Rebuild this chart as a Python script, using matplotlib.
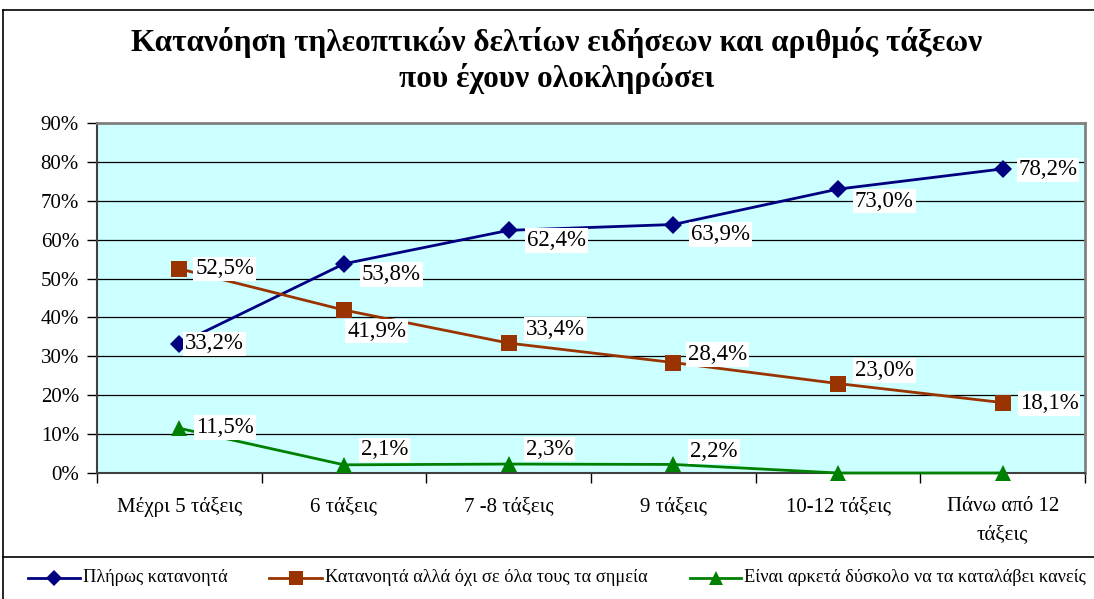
import matplotlib
matplotlib.use('Agg')
import matplotlib.pyplot as plt
from matplotlib.lines import Line2D

plt.rcParams['font.family'] = ['Liberation Serif', 'DejaVu Serif']

categories = ['Μέχρι 5 τάξεις', '6 τάξεις', '7 -8 τάξεις', '9 τάξεις',
              '10-12 τάξεις', 'Πάνω από 12\nτάξεις']
series_names = ['Πλήρως κατανοητά',
                'Κατανοητά αλλά όχι σε όλα τους τα σημεία',
                'Είναι αρκετά δύσκολο να τα καταλάβει κανείς']
full = [33.2, 53.8, 62.4, 63.9, 73.0, 78.2]
partly = [52.5, 41.9, 33.4, 28.4, 23.0, 18.1]
hard = [11.5, 2.1, 2.3, 2.2, 0.0, 0.0]

colors = ['#000080', '#993300', '#008000']
markers = ['D', 's', '^']
msizes = [9, 11, 11]

# label offsets in pixels (dx to left edge, dy of centre, down positive)
offsets = [
    [(6, 0), (18, 11), (18, 10), (18, 10), (17, 12), (16, 1)],
    [(16, 0), (3, 21), (17, -14), (15, -8), (17, -13), (17, 1)],
    [(17, -1), (17, -15), (17, -15), (17, -13), None, None],
]

fig = plt.figure(figsize=(10.94, 5.99), dpi=100)
W, H = 1094, 599
ax = fig.add_axes([97 / W, 1 - 473 / H, (1085 - 97) / W, (473 - 123) / H])
ax.set_facecolor('#CCFFFF')

x = list(range(len(categories)))
data = [full, partly, hard]
for i, vals in enumerate(data):
    ax.plot(x, vals, color=colors[i], lw=2, marker=markers[i], ms=msizes[i],
            markeredgewidth=0, clip_on=False, zorder=3 + i)

for i, vals in enumerate(data):
    for j, v in enumerate(vals):
        off = offsets[i][j]
        if off is None:
            continue
        txt = f'{v:.1f}%'.replace('.', ',')
        ax.annotate(txt, (j, v), xytext=(off[0] * 0.72, -off[1] * 0.72),
                    textcoords='offset points', ha='left', va='center',
                    fontsize=16.5,
                    bbox=dict(boxstyle='square,pad=0.08', fc='white', ec='none'),
                    zorder=10)

ax.set_xlim(-0.5, len(categories) - 0.5)
ax.set_ylim(0, 90)
ax.set_yticks(range(0, 91, 10))
ax.set_yticklabels([f'{t}%' for t in range(0, 91, 10)], fontsize=15)
ax.yaxis.grid(True, color='black', lw=0.9)
ax.set_axisbelow(True)
ax.set_xticks(x)
ax.set_xticklabels(categories, fontsize=15, linespacing=1.7)
ax.set_xticks([k + 0.5 for k in range(-1, len(categories))], minor=True)
ax.tick_params(axis='x', which='major', length=0, pad=17)
ax.tick_params(axis='x', which='minor', length=7, width=1)
ax.tick_params(axis='y', length=7, width=1, pad=6)

for s in ['top', 'right']:
    ax.spines[s].set_color('#808080')
    ax.spines[s].set_linewidth(2)
for s in ['left', 'bottom']:
    ax.spines[s].set_color('#404040')
    ax.spines[s].set_linewidth(1.5)

fig.text(557 / W, 1 - 42 / H,
         'Κατανόηση τηλεοπτικών δελτίων ειδήσεων και αριθμός τάξεων',
         ha='center', va='center', fontsize=22.5, fontweight='bold')
fig.text(557 / W, 1 - 78 / H, 'που έχουν ολοκληρώσει',
         ha='center', va='center', fontsize=22.5, fontweight='bold')

# outer frame and legend box
fig.add_artist(Line2D([3 / W, 3 / W], [0, 1 - 10 / H], color='black', lw=1.2))
fig.add_artist(Line2D([3 / W, 1], [1 - 10 / H, 1 - 10 / H], color='black', lw=1.2))
fig.add_artist(Line2D([3 / W, 1], [1 - 557 / H, 1 - 557 / H], color='black', lw=1.2))

# legend
leg_x = [(28, 80), (269, 322), (690, 741)]
leg_y = 1 - 578 / H
for i, name in enumerate(series_names):
    x0, x1 = leg_x[i]
    fig.add_artist(Line2D([x0 / W, (x0 + x1) / 2 / W, x1 / W], [leg_y] * 3,
                          color=colors[i], lw=2, marker=markers[i],
                          ms=msizes[i] - 1, markeredgewidth=0, markevery=[1]))
    fig.text((x1 + 3) / W, leg_y, name, ha='left', va='center', fontsize=13.2)

fig.savefig('out.png', dpi=100)
